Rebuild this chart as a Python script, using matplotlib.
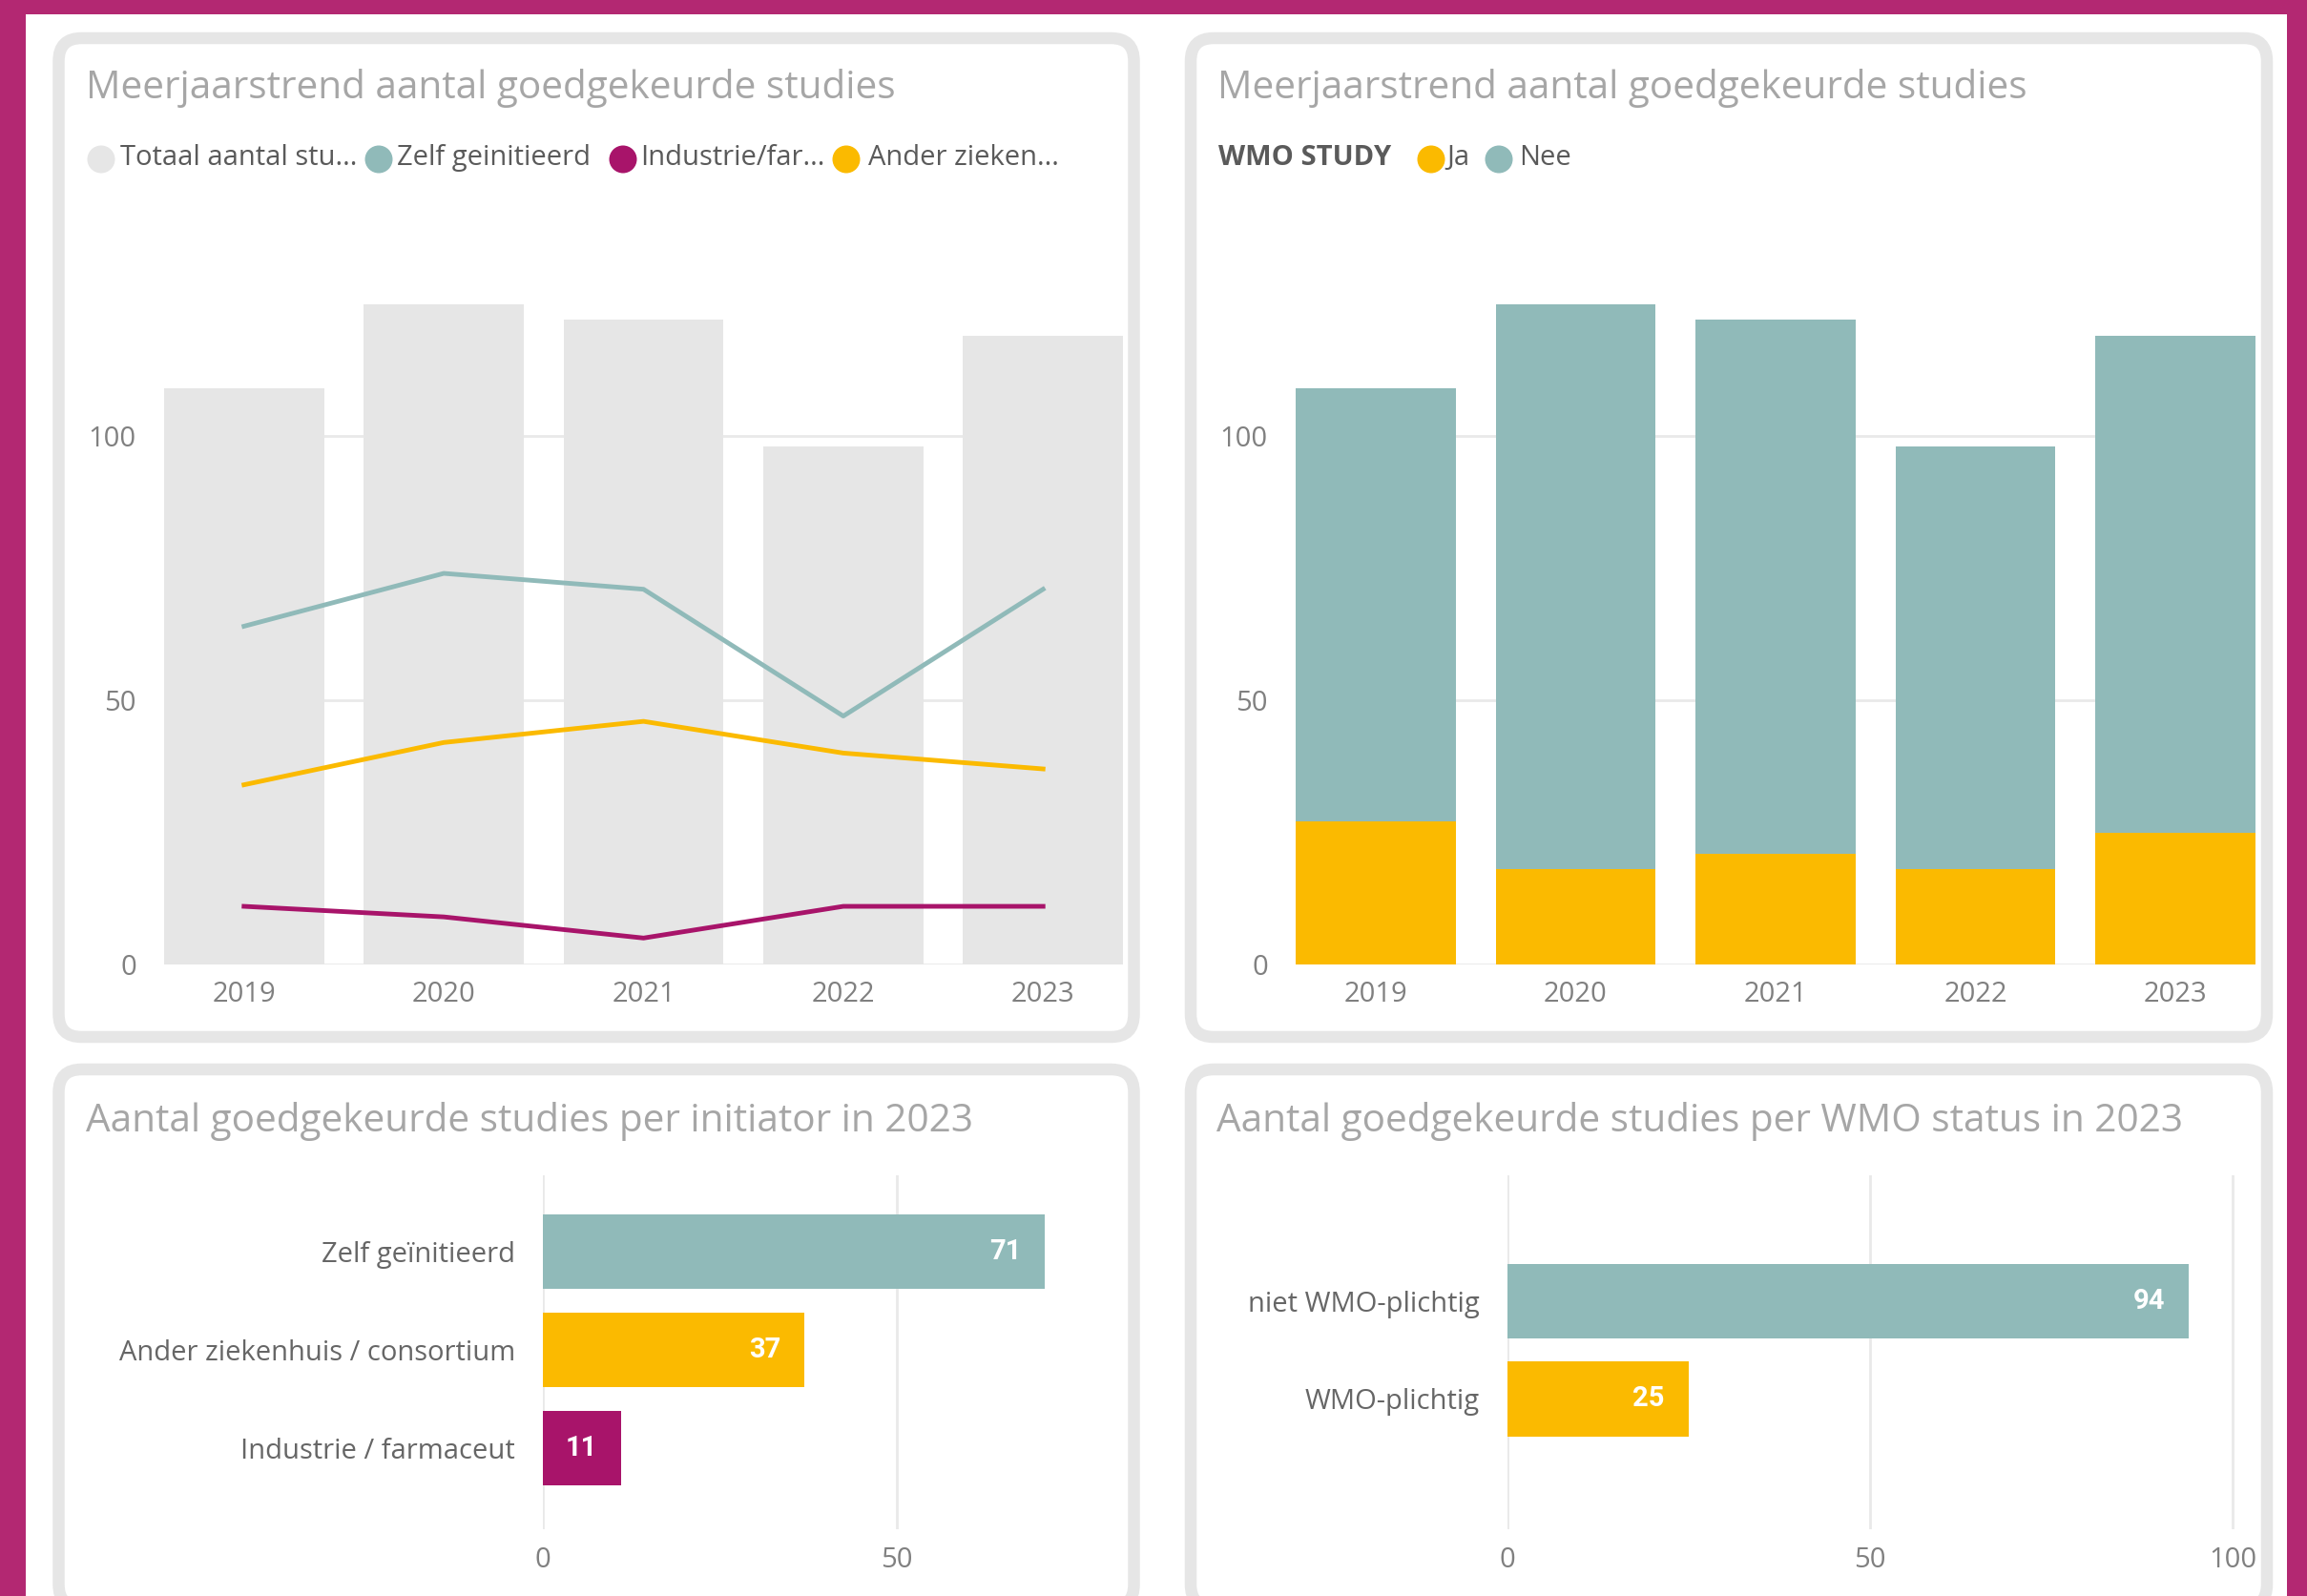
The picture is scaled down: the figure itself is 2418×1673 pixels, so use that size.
import matplotlib.pyplot as plt
from matplotlib.patches import FancyBboxPatch, Rectangle, Circle
import numpy as np

# data
years = ["2019", "2020", "2021", "2022", "2023"]
totaal = [109, 125, 122, 98, 119]
zelf = [64, 74, 71, 47, 71]
industrie = [11, 9, 5, 11, 11]
ander = [34, 42, 46, 40, 37]

wmo_ja = [27, 18, 21, 18, 25]
wmo_nee = [82, 107, 101, 80, 94]

legend1 = ["Totaal aantal stu...", "Zelf geinitieerd", "Industrie/far...", "Ander zieken..."]
legend2_title = "WMO STUDY"
legend2 = ["Ja", "Nee"]

init_labels = ["Zelf geïnitieerd", "Ander ziekenhuis / consortium", "Industrie / farmaceut"]
init_values = [71, 37, 11]

wmo_labels = ["niet WMO-plichtig", "WMO-plichtig"]
wmo_values = [94, 25]

titles = ["Meerjaarstrend aantal goedgekeurde studies",
          "Meerjaarstrend aantal goedgekeurde studies",
          "Aantal goedgekeurde studies per initiator in 2023",
          "Aantal goedgekeurde studies per WMO status in 2023"]

TEAL = "#90BAB9"
YELLOW = "#FBBA00"
PURPLE = "#A8146A"
BARGREY = "#E6E6E6"
MAGENTA = "#B32872"
BORDER = "#E6E6E6"
GRID = "#E9E9E9"
TITLE_C = "#A6A6A6"
TEXT_C = "#5A5A5A"
TICK_C = "#808080"

plt.rcParams['font.family'] = ['Open Sans', 'DejaVu Sans']

W, H = 2418, 1673
DPI = 100
fig = plt.figure(figsize=(W / DPI, H / DPI), dpi=DPI)

# background in pixel units
bg = fig.add_axes([0, 0, 1, 1])
bg.set_xlim(0, W)
bg.set_ylim(H, 0)
bg.axis('off')
bg.add_patch(Rectangle((0, 0), W, H, fc=MAGENTA, ec='none'))
bg.add_patch(Rectangle((27, 15), 2397 - 27, H, fc='white', ec='none'))

panels = [(61.5, 40, 1188.5, 1087), (1248, 40, 2376, 1087),
          (61.5, 1121, 1188.5, 1685), (1248, 1121, 2376, 1685)]
for x0, y0, x1, y1 in panels:
    bg.add_patch(FancyBboxPatch((x0, y0), x1 - x0, y1 - y0,
                                boxstyle="round,pad=0,rounding_size=24",
                                fc='white', ec=BORDER, lw=9))

# titles
title_pos = [(90, 103), (1276, 103), (90, 1186), (1275, 1186)]
for (tx, ty), t in zip(title_pos, titles):
    bg.text(tx, ty, t, fontsize=29.2, color=TITLE_C, va='baseline', ha='left')

# legend panel 1
leg1_cols = [BARGREY, TEAL, PURPLE, YELLOW]
leg1_circ = [106, 397, 653, 887]
leg1_text = [126, 416, 671, 910]
for c, cx, tx, name in zip(leg1_cols, leg1_circ, leg1_text, legend1):
    bg.add_patch(Circle((cx, 167), 14.5, fc=c, ec='none'))
    bg.text(tx, 173, name, fontsize=21, color=TEXT_C, va='baseline')

# legend panel 2
bg.text(1277, 173, legend2_title, fontsize=21, color=TEXT_C, va='baseline', fontweight='bold')
for c, cx, tx, name in zip([YELLOW, TEAL], [1500, 1571], [1516, 1592], legend2):
    bg.add_patch(Circle((cx, 167), 14.5, fc=c, ec='none'))
    bg.text(tx, 173, name, fontsize=21, color=TEXT_C, va='baseline')


def px_axes(x0, y0, x1, y1):
    ax = fig.add_axes([x0 / W, 1 - y1 / H, (x1 - x0) / W, (y1 - y0) / H])
    ax.set_facecolor('none')
    for s in ax.spines.values():
        s.set_visible(False)
    return ax


x = np.arange(len(years))
ytop = (1011 - 250) / 5.54

# panel 1: bars + lines
ax1 = px_axes(172, 250, 1177, 1011)
ax1.bar(x, totaal, width=0.8, color=BARGREY, zorder=2)
ax1.plot(x, zelf, color=TEAL, lw=3.5, zorder=3)
ax1.plot(x, industrie, color=PURPLE, lw=3.5, zorder=3)
ax1.plot(x, ander, color=YELLOW, lw=3.5, zorder=3)

# panel 2: stacked bars
ax2 = px_axes(1358, 250, 2364, 1011)
ax2.bar(x, wmo_ja, width=0.8, color=YELLOW, zorder=2)
ax2.bar(x, wmo_nee, width=0.8, bottom=wmo_ja, color=TEAL, zorder=2)

for ax in (ax1, ax2):
    ax.set_xlim(-0.4, 4.4)
    ax.set_ylim(0, ytop)
    ax.set_xticks(x, years)
    ax.set_yticks([0, 50, 100])
    ax.yaxis.grid(True, color=GRID, lw=2, zorder=0)
    ax.set_axisbelow(True)
    ax.tick_params(axis='y', length=0, pad=21, labelsize=21, labelcolor=TICK_C)
    ax.tick_params(axis='x', length=0, pad=12, labelsize=21, labelcolor=TICK_C)

# panel 3: horizontal bars per initiator
ax3 = px_axes(569, 1231.6, 569 + 80 * 7.41, 1602.6)
y3 = np.arange(len(init_labels))
bars3 = ax3.barh(y3, init_values, height=0.76, color=[TEAL, YELLOW, PURPLE], zorder=2)
ax3.set_xlim(0, 80)
ax3.set_ylim(2.82, -0.78)
ax3.set_xticks([0, 50])

# panel 4: horizontal bars per WMO status
ax4 = px_axes(1579.6, 1231.6, 1579.6 + 100.3 * 7.604, 1602.6)
y4 = np.arange(len(wmo_labels))
bars4 = ax4.barh(y4, wmo_values, height=0.76, color=[TEAL, YELLOW], zorder=2)
ax4.set_xlim(0, 100.3)
ax4.set_ylim(2.324, -1.285)
ax4.set_xticks([0, 50, 100])

for ax, labels, yy, vals in ((ax3, init_labels, y3, init_values), (ax4, wmo_labels, y4, wmo_values)):
    ax.set_yticks(yy, labels)
    ax.xaxis.grid(True, color=GRID, lw=2, zorder=0)
    ax.set_axisbelow(True)
    ax.tick_params(axis='y', length=0, pad=21, labelsize=21, labelcolor='#666666')
    ax.tick_params(axis='x', length=0, pad=13, labelsize=21, labelcolor=TICK_C)
    for yi, v in zip(yy, vals):
        ax.annotate(str(v), (v, yi), xytext=(-18, 0), textcoords='offset points',
                    ha='right', va='center', color='white', fontsize=21,
                    fontweight='bold', family=['Roboto', 'DejaVu Sans'], zorder=4)

fig.savefig("out.png", dpi=DPI)
